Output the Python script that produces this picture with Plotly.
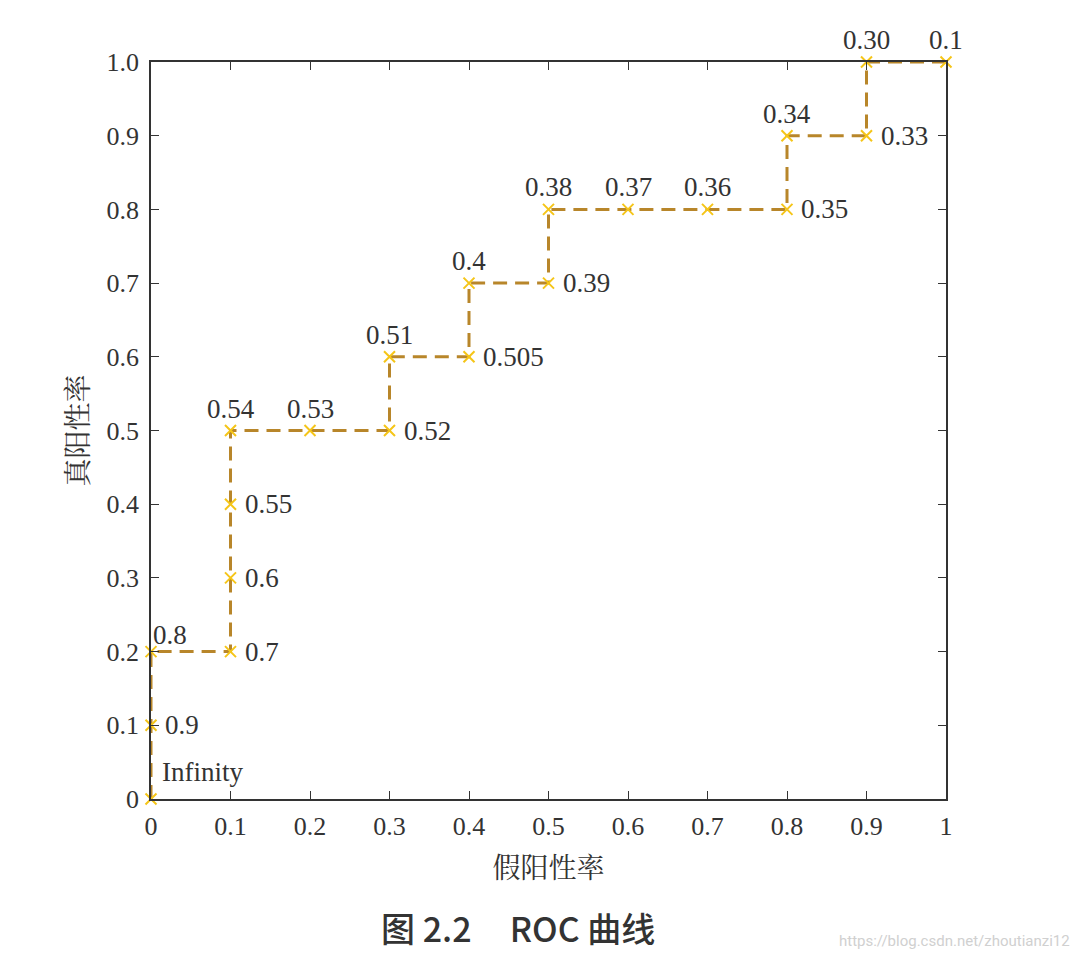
import plotly.graph_objects as go

fpr = [0, 0, 0, 0.1, 0.1, 0.1, 0.1, 0.2, 0.3, 0.3, 0.4, 0.4, 0.5, 0.5, 0.6, 0.7, 0.8, 0.8, 0.9, 0.9, 1.0]
tpr = [0, 0.1, 0.2, 0.2, 0.3, 0.4, 0.5, 0.5, 0.5, 0.6, 0.6, 0.7, 0.7, 0.8, 0.8, 0.8, 0.8, 0.9, 0.9, 1.0, 1.0]
thresholds = ["Infinity", "0.9", "0.8", "0.7", "0.6", "0.55", "0.54", "0.53", "0.52", "0.51", "0.505",
              "0.4", "0.39", "0.38", "0.37", "0.36", "0.35", "0.34", "0.33", "0.30", "0.1"]
# label placement: r = right of point, t = above point, tr = above-right
placement = ["inf", "r", "tr", "r", "r", "r", "t", "t", "r", "t", "r",
             "t", "r", "t", "t", "t", "r", "t", "r", "t", "t"]

x_ticks = [0, 0.1, 0.2, 0.3, 0.4, 0.5, 0.6, 0.7, 0.8, 0.9, 1.0]
x_ticktext = ["0", "0.1", "0.2", "0.3", "0.4", "0.5", "0.6", "0.7", "0.8", "0.9", "1"]
y_ticks = [0, 0.1, 0.2, 0.3, 0.4, 0.5, 0.6, 0.7, 0.8, 0.9, 1.0]
y_ticktext = ["0", "0.1", "0.2", "0.3", "0.4", "0.5", "0.6", "0.7", "0.8", "0.9", "1.0"]

serif = "Liberation Serif, Times New Roman, serif"
ink = "#333333"

fig = go.Figure()
fig.add_trace(go.Scatter(
    x=fpr, y=tpr, mode="lines+markers",
    line=dict(color="#b8862a", width=3, dash="14px,8px"),
    marker=dict(symbol="x-thin", size=11, line=dict(color="#f5c518", width=2)),
    cliponaxis=False, showlegend=False,
))

anns = []
for xv, yv, t, p in zip(fpr, tpr, thresholds, placement):
    a = dict(x=xv, y=yv, xref="x", yref="y", text=t, showarrow=False,
             font=dict(family=serif, size=27, color=ink))
    if p == "r":
        a.update(xanchor="left", yanchor="middle", xshift=12, yshift=0)
    elif p == "t":
        a.update(xanchor="center", yanchor="bottom", yshift=5)
    elif p == "tr":
        a.update(xanchor="left", yanchor="bottom", xshift=0, yshift=0)
    else:
        a.update(xanchor="left", yanchor="bottom", xshift=9, yshift=10)
    anns.append(a)

anns.append(dict(x=0.462, y=-0.175, xref="paper", yref="paper",
                 text="图 2.2&nbsp;&nbsp;&nbsp;&nbsp; ROC 曲线",
                 showarrow=False, xanchor="center", yanchor="middle",
                 font=dict(family="Noto Sans CJK SC", size=34, color="#333333", weight=500)))
anns.append(dict(x=1.1585, y=-0.193, xref="paper", yref="paper",
                 text="https://blog.csdn.net/zhoutianzi12",
                 showarrow=False, xanchor="right", yanchor="middle",
                 font=dict(family="Roboto, sans-serif", size=15, color="#d0d0d0")))

axis_common = dict(
    range=[0, 1], showgrid=False, zeroline=False, showline=True, linecolor=ink, linewidth=1.5,
    mirror="ticks", ticks="inside", ticklen=8, tickwidth=1.2, tickcolor=ink,
    tickfont=dict(family=serif, size=26, color=ink),
)

fig.update_layout(
    width=1079, height=959,
    margin=dict(l=151, r=133, t=62, b=160),
    paper_bgcolor="white", plot_bgcolor="white",
    xaxis=dict(**axis_common, tickvals=x_ticks, ticktext=x_ticktext, ticklabelstandoff=3,
               title=dict(text="假阳性率", font=dict(family="Noto Serif CJK SC, Noto Sans CJK SC", size=28, color=ink), standoff=18)),
    yaxis=dict(**axis_common, tickvals=y_ticks, ticktext=y_ticktext, ticklabelstandoff=5,
               title=dict(text="真阳性率", font=dict(family="Noto Serif CJK SC, Noto Sans CJK SC", size=28, color=ink), standoff=10)),
    annotations=anns,
)

fig.write_html("out.html")
